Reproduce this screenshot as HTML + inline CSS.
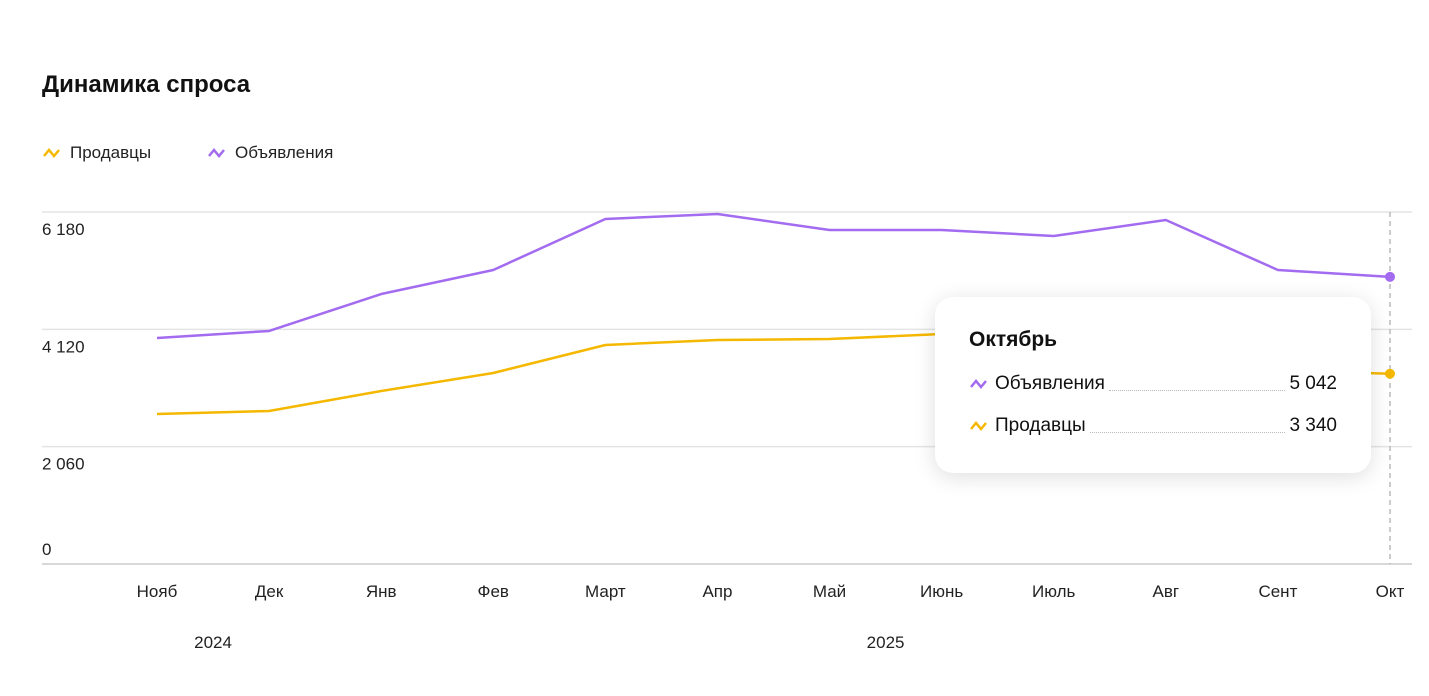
<!DOCTYPE html>
<html><head><meta charset="utf-8">
<style>
body{margin:0;width:1429px;height:696px;background:#fff;font-family:"Liberation Sans","Noto Sans CJK SC",sans-serif;overflow:hidden;position:relative}
.title{position:absolute;left:42px;top:71px;font-size:24px;font-weight:bold;color:#111}
.legend{position:absolute;top:143px;font-size:17px;color:#222;display:flex;align-items:center;gap:8px}
.tip{position:absolute;left:935px;top:297px;width:436px;height:176px;background:#fff;border-radius:18px;box-shadow:0 4px 22px rgba(0,0,0,0.13)}
.tip .h{position:absolute;left:34px;top:31px;font-size:21px;font-weight:bold;color:#111}
.row{position:absolute;left:34px;width:368px;font-size:19px;color:#111;display:flex;align-items:center}
.row svg{margin-right:4px}
.row .d{flex:1;border-bottom:1px dotted #bbb;margin:0 4px;height:12px}
</style></head><body>
<div class="title">Динамика спроса</div>
<div class="legend" style="left:42px"><svg width="20" height="12"><path d="M2 9 L7 3 L12 9 L17 3" stroke="#f5b800" stroke-width="2.5" fill="none"/></svg>Продавцы</div>
<div class="legend" style="left:207px"><svg width="20" height="12"><path d="M2 9 L7 3 L12 9 L17 3" stroke="#a36bf0" stroke-width="2.5" fill="none"/></svg>Объявления</div>
<svg id="chart" width="1429" height="696" style="position:absolute;left:0;top:0"></svg>
<div class="tip">
<div class="h">Октябрь</div>
<div class="row" style="top:76px"><svg width="22" height="12"><path d="M2 9 L7 3 L12 9 L17 3" stroke="#a36bf0" stroke-width="2.5" fill="none"/></svg><span>Объявления</span><span class="d"></span><span>5 042</span></div>
<div class="row" style="top:118px"><svg width="22" height="12"><path d="M2 9 L7 3 L12 9 L17 3" stroke="#f5b800" stroke-width="2.5" fill="none"/></svg><span>Продавцы</span><span class="d"></span><span>3 340</span></div>
</div>
<script>
const categories=["Нояб","Дек","Янв","Фев","Март","Апр","Май","Июнь","Июль","Авг","Сент","Окт"];
const listings=[3968,4091,4740,5162,6057,6145,5864,5864,5758,6039,5162,5042];
const sellers=[2633,2686,3037,3353,3845,3933,3950,4038,4100,4000,3400,3340];
const yTicks=[0,2060,4120,6180];
const yTickLabels=["0","2 060","4 120","6 180"];
const years=[{label:"2024",i:0.5},{label:"2025",i:6.5}];
const svg=document.getElementById('chart');const NS="http://www.w3.org/2000/svg";
const x0=157,x1=1390,yb=564,yt=212,vmax=6180;
const X=i=>x0+(x1-x0)*i/(categories.length-1);
const Y=v=>yb-(yb-yt)*v/vmax;
function mk(t,a){const e=document.createElementNS(NS,t);for(const k in a)e.setAttribute(k,a[k]);svg.appendChild(e);return e;}
yTicks.forEach((v,i)=>{
 const l=mk('line',{x1:42,x2:1412,y1:Y(v),y2:Y(v),stroke:i==0?'#ccc':'#e4e4e4','stroke-width':1.5});
 
 
 const t=mk('text',{x:42,y:i==0?Y(v)-9:Y(v)+23,'font-size':17,fill:'#222'});t.textContent=yTickLabels[i];
 
 
});
categories.forEach((c,i)=>{
 const t=mk('text',{x:X(i),y:597,'font-size':17,fill:'#222','text-anchor':'middle'});t.textContent=c;
 
 
});
years.forEach(y=>{
 const t=mk('text',{x:X(y.i),y:648,'font-size':17,fill:'#222','text-anchor':'middle'});t.textContent=y.label;
 
 
});
const vl=mk('line',{x1:x1,x2:x1,y1:yt,y2:yb,stroke:'#bbb','stroke-width':1.5,'stroke-dasharray':'5 4'});


[[sellers,'#f5b800','sellers-line'],[listings,'#a36bf0','listings-line']].forEach(([d,c,n])=>{
 const p=mk('polyline',{points:d.map((v,i)=>X(i)+','+Y(v)).join(' '),fill:'none',stroke:c,'stroke-width':2.5,'stroke-linejoin':'round'});
 
 
 const dot=mk('circle',{cx:X(d.length-1),cy:Y(d[d.length-1]),r:5,fill:c});
 
 
});
</script>
</body></html>
